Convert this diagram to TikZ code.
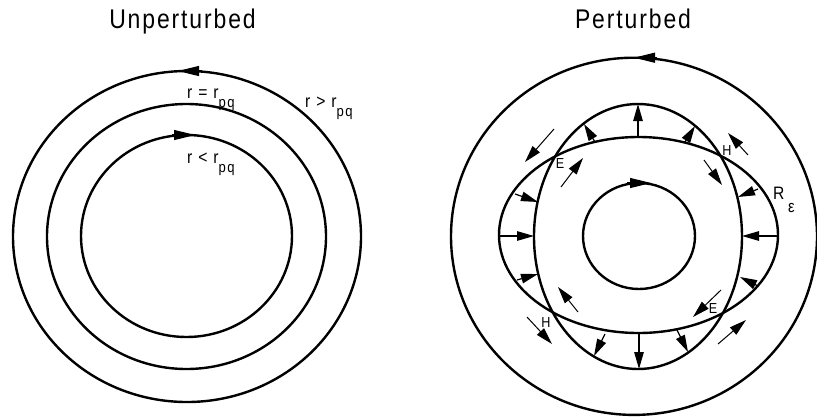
\documentclass[tikz,border=0pt]{standalone}
\usepackage{fontspec}
\setmainfont[FakeStretch=0.87]{Liberation Sans}
\newfontfamily\titlefont[LetterSpace=7,FakeStretch=0.85]{Liberation Sans}
\newfontfamily\lblfont[LetterSpace=9,FakeStretch=0.87]{Liberation Sans}
\usetikzlibrary{arrows.meta}
\newcommand{\lsub}[1]{\raisebox{-9pt}{\fontsize{15pt}{15pt}\selectfont #1}}
\tikzset{
  orbit/.style={line width=2.4pt},
  orbitarrow/.style={line width=1.2pt,-{Triangle[length=21pt,width=10pt]}},
  radial/.style={line width=1.2pt,-{Triangle[length=17pt,width=9.5pt]}},
  flow/.style={line width=1pt,-{Triangle[length=17pt,width=9.5pt]}},
  title/.style={font=\titlefont\fontsize{27pt}{27pt}\selectfont,anchor=base,inner sep=0pt},
  lbl/.style={font=\lblfont\fontsize{18pt}{18pt}\selectfont,anchor=base west,inner sep=0pt},
  pt/.style={font=\fontsize{14.5pt}{14.5pt}\selectfont,inner sep=0pt}
}
\begin{document}
\begin{tikzpicture}[x=1pt,y=-1pt]
\useasboundingbox (0,0) rectangle (817,416);
% titles
\node[title] (t1) at (182.5,28) {Unperturbed};
\node[title] (t2) at (633,28) {Perturbed};
% ---------------- left diagram ----------------
\draw[orbit] (187,236.5) ellipse [x radius=174, y radius=165.5];
\draw[orbit] (186.5,236.5) ellipse [x radius=139.5, y radius=132.5];
\draw[orbit] (186.5,236) ellipse [x radius=105.5, y radius=101];
\coordinate (la1) at (202,71);  \coordinate (la2) at (178,71);
\coordinate (lb1) at (172,135); \coordinate (lb2) at (195,135);
\draw[orbitarrow] (la1) -- (la2);
\draw[orbitarrow] (lb1) -- (lb2);
\node[lbl] (l1) at (187,98) {r = r\lsub{pq}};
\node[lbl] (l2) at (305,107) {r > r\lsub{pq}};
\node[lbl] (l3) at (187,163) {r < r\lsub{pq}};
% ---------------- right diagram ----------------
\draw[orbit] (634,236.3) ellipse [x radius=183, y radius=178.6];
\draw[orbit] (638,236.5) ellipse [x radius=104, y radius=132.5];
\draw[orbit] (638.5,235) ellipse [x radius=139.5, y radius=98];
\draw[orbit] (639,236) ellipse [x radius=56, y radius=53];
\coordinate (ra1) at (657,57.7); \coordinate (ra2) at (634,57.7);
\coordinate (rb1) at (627,183);  \coordinate (rb2) at (651,183);
\draw[orbitarrow] (ra1) -- (ra2);
\draw[orbitarrow] (rb1) -- (rb2);
% radial arrows (from wide ellipse to tall ellipse)
\draw[radial] (638,137) -- (638,104);
\draw[radial] (595,142) -- (584,124);
\draw[radial] (685,142) -- (695,126);
\draw[radial] (639,334) -- (639,369);
\draw[radial] (605,334) -- (594,356);
\draw[radial] (677,330) -- (688,352);
\draw[radial] (499,236) -- (534,236);
\draw[radial] (515,194) -- (538,202);
\draw[radial] (517,280) -- (538,274);
\draw[radial] (778,236) -- (742,236);
\draw[radial] (758,189) -- (738,197);
\draw[radial] (758,286) -- (740,277);
% flow arrows near the fixed points
\draw[flow] (554,129) -- (525,162);
\draw[flow] (561,187) -- (583,158);
\draw[flow] (748,155) -- (728,133);
\draw[flow] (704,160) -- (722,185);
\draw[flow] (721,290) -- (693,317);
\draw[flow] (718,344) -- (746,320);
\draw[flow] (578,312) -- (558,287);
\draw[flow] (527,317) -- (552,344);
% labels
\node[pt] (e1) at (560,163.5) {E};
\node[pt] (h1) at (727,151) {H};
\node[pt] (e2) at (713,309) {E};
\node[pt] (h2) at (546,322.5) {H};
\node[lbl] (R) at (773,199) {R};
\node[font=\fontsize{17pt}{17pt}\selectfont,anchor=base west,inner sep=0pt] (eps) at (788,212) {ε};
\end{tikzpicture}
\end{document}
